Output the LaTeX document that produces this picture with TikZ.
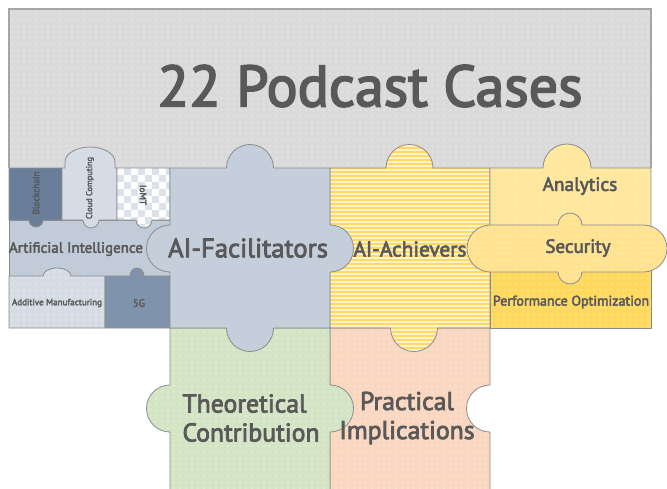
\documentclass[tikz,border=0pt]{standalone}
\usepackage{fontspec}
\setmainfont{PT Sans}[FakeBold=3]
\usetikzlibrary{patterns.meta}

\definecolor{txt}{HTML}{595959}
\definecolor{edge}{HTML}{8C8C8C}
\definecolor{caseGray}{HTML}{DADADA}
\definecolor{facil}{HTML}{C5CEDB}
\definecolor{achY}{HTML}{FFD966}
\definecolor{achL}{HTML}{FFF2C8}
\definecolor{anaY}{HTML}{FFE79E}
\definecolor{secY}{HTML}{FFE391}
\definecolor{perfY}{HTML}{FFD95E}
\definecolor{theoG}{HTML}{D4E5C5}
\definecolor{pracP}{HTML}{FAD7C1}
\definecolor{blockB}{HTML}{6A7E9A}
\definecolor{fiveB}{HTML}{7F93AD}
\definecolor{paleB}{HTML}{D6DCE5}
\definecolor{aiB}{HTML}{C2CBD8}
\definecolor{iomtB}{HTML}{DCE2EA}

\tikzdeclarepattern{
  name=wdots, type=uncolored,
  bounding box={(-1pt,-1pt) and (1pt,1pt)},
  tile size={(6pt,6pt)},
  code={\fill (0pt,0pt) circle (0.6pt);}
}

% piece outlines (pixel-like coordinates, y grows downwards)
\def\practical{(330,328) -- (490,328) -- (490,385) arc[start angle=270,end angle=90,radius=23.5] -- (490,494) -- (330,494) -- cycle}
\def\theoretical{(170,328) -- (330,328) -- (330,385) arc[start angle=270,end angle=450,radius=23.5] -- (330,494) -- (170,494) -- (170,432) arc[start angle=90,end angle=270,radius=23.5] -- cycle}
\def\achievers{(330,168) -- (386,168) arc[start angle=180,end angle=360,radius=23.5] -- (490,168) -- (490,328) -- (437.5,328) arc[start angle=0,end angle=180,radius=23.5] -- (330,328) -- cycle}
\def\analytics{(490,168) -- (543,168) arc[start angle=180,end angle=360,radius=24] -- (651,168) -- (651,250) -- (490,250) -- cycle}
\def\performance{(490,250) rectangle (651,328)}
\def\security{(490.5,225) -- (558,225) arc[start angle=180,end angle=360,radius=12] -- (643.5,225) arc[start angle=270,end angle=450,radius=23.5] -- (582,272) arc[start angle=0,end angle=180,radius=12] -- (490.5,272) arc[start angle=90,end angle=270,radius=23.5] -- cycle}
\def\aiband{(9,220) rectangle (170,276)}
\def\blockchain{(9,168) -- (62,168) -- (62,220) -- (43,220) arc[start angle=0,end angle=180,radius=7] -- (9,220) -- cycle}
\def\cloud{(62,220) -- (62,168) -- (65,168) -- (65,162) arc[start angle=180,end angle=360,x radius=25,y radius=15] -- (115,168) -- (117,168) -- (117,220) -- (99,220) arc[start angle=0,end angle=180,radius=8] -- cycle}
\def\iomt{(117,168) -- (170,168) -- (170,220) -- (152,220) arc[start angle=0,end angle=180,radius=8] -- (117,220) -- cycle}
\def\additive{(9,328) -- (9,276) -- (43,276) arc[start angle=180,end angle=360,x radius=14,y radius=8] -- (105,276) -- (105,328) -- cycle}
\def\fiveg{(105,328) -- (105,276) -- (130,276) arc[start angle=180,end angle=360,x radius=7,y radius=8] -- (170,276) -- (170,328) -- cycle}
\def\facilitators{(170,168) -- (226.5,168) arc[start angle=180,end angle=360,radius=23.5] -- (330,168) -- (330,225) arc[start angle=270,end angle=450,radius=23.5] -- (330,328) -- (273.5,328) arc[start angle=0,end angle=180,radius=23.5] -- (170,328) -- (170,272) arc[start angle=90,end angle=270,radius=23.5] -- cycle}

\begin{document}
\begin{tikzpicture}[x=1pt,y=1pt,yscale=-1,
  piece/.style={draw=edge, line width=0.8pt, line join=round},
  dotted fill/.style={pattern=wdots, pattern color=white},
  lbl/.style={text=txt, inner sep=0pt}]
\useasboundingbox (0,0) rectangle (667,488);

% cases banner
\fill[caseGray] (9,9) rectangle (651,168);
\path[dotted fill] (9,9) rectangle (651,168);
\draw[draw=black!35, line width=1.6pt] (9,168) -- (9,9) -- (651,9) -- (651,168);

% practical implications
\fill[pracP] \practical;
\path[dotted fill] \practical;
\draw[piece] \practical;

% theoretical contribution
\fill[theoG] \theoretical;
\path[dotted fill] \theoretical;
\draw[piece] \theoretical;

% AI-achievers, striped
\begin{scope}
  \clip \achievers;
  \fill[achY] (320,140) rectangle (500,360);
  \foreach \yy in {145,149,...,353} \fill[achL] (320,\yy) rectangle (500,\yy+1.7);
\end{scope}
\draw[piece] \achievers;

% right column
\fill[anaY] \analytics;
\path[dotted fill] \analytics;
\draw[piece] \analytics;
\fill[perfY] \performance;
\path[dotted fill] \performance;
\draw[piece] \performance;
\fill[secY] \security;
\path[dotted fill] \security;
\draw[piece] \security;

% technology pieces
\fill[aiB] \aiband;
\draw[piece] \aiband;
\fill[blockB] \blockchain;
\draw[piece] \blockchain;
\fill[paleB] \cloud;
\draw[piece] \cloud;
\begin{scope}
  \clip \iomt;
  \fill[white] (110,160) rectangle (180,235);
  \foreach \xx in {117,131,...,173}
    \foreach \yy in {161,175,...,231} {
      \fill[iomtB] (\xx,\yy) rectangle +(7,7);
      \fill[iomtB] (\xx+7,\yy+7) rectangle +(7,7);
    }
\end{scope}
\draw[piece] \iomt;
\fill[paleB] \additive;
\path[dotted fill] \additive;
\draw[piece] \additive;
\fill[fiveB] \fiveg;
\draw[piece] \fiveg;

% AI-facilitators
\fill[facil] \facilitators;
\draw[piece] \facilitators;

% labels
\node[lbl, font=\fontsize{58}{60}\selectfont] (title) at (370,86) {22 Podcast Cases};
\node[lbl, font=\fontsize{26.7}{28}\selectfont] (facilL) at (248,248) {AI-Facilitators};
\node[lbl, font=\fontsize{21.3}{23}\selectfont] (achvL) at (410,249) {AI-Achievers};
\node[lbl, font=\fontsize{19.3}{21}\selectfont] (anaL) at (580,186) {Analytics};
\node[lbl, font=\fontsize{19}{21}\selectfont] (secL) at (578,248) {Security};
\node[lbl, font=\fontsize{14}{16}\selectfont] (perfL) at (571,302) {Performance Optimization};
\node[lbl, font=\fontsize{15}{17}\selectfont] (aiL) at (76,249) {Artificial Intelligence};
\node[lbl, font=\fontsize{9}{11}\selectfont] (addL) at (57,303) {Additive Manufacturing};
\node[lbl, font=\fontsize{10.5}{12}\selectfont] (fiveL) at (139,303) {5G};
\node[lbl, rotate=90, font=\fontsize{9.3}{11}\selectfont] (blkL) at (36,193) {Blockchain};
\node[lbl, rotate=90, font=\fontsize{8.4}{10}\selectfont] (cloudL) at (90,188) {Cloud Computing};
\node[lbl, rotate=-90, font=\fontsize{9.3}{11}\selectfont] (iomtL) at (143,195) {IoMT};
\node[lbl, align=left, font=\fontsize{25.7}{29}\selectfont] (theoL) at (251,418) {Theoretical\\Contribution};
\node[lbl, align=center, font=\fontsize{25.7}{29}\selectfont] (pracL) at (407,418) {Practical\\Implications};
\end{tikzpicture}
\end{document}
